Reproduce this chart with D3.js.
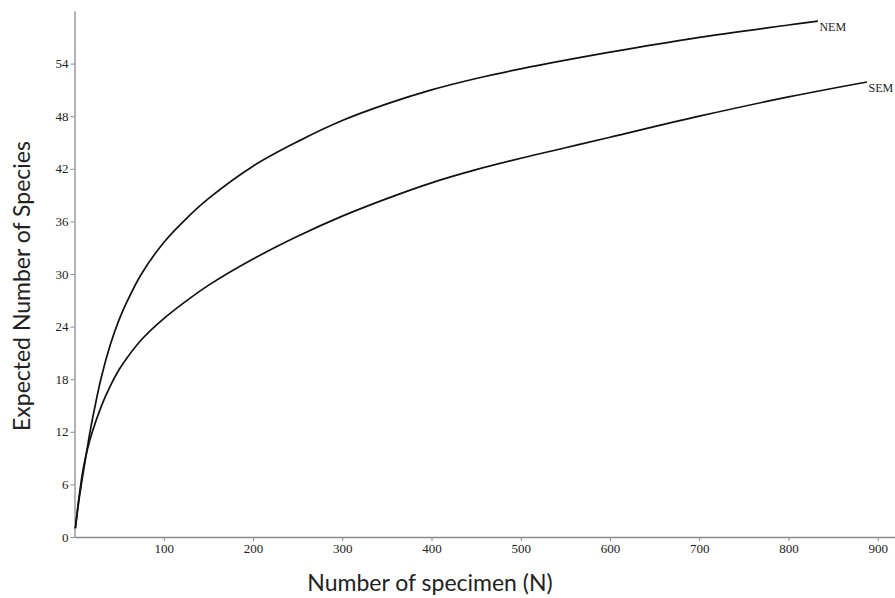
<!DOCTYPE html>
<html>
<head>
<meta charset="utf-8">
<script src="https://cdn.jsdelivr.net/npm/d3@7"></script>
<style>
  html, body { margin: 0; padding: 0; background: #fff; }
  svg { display: block; }
</style>
</head>
<body>
<svg id="chart" width="895" height="598"></svg>
<script>
// Rarefaction curves: expected species count against number of specimens
const nemN = [1, 5, 10, 15, 20, 30, 40, 50, 60, 75, 100, 125, 150, 200, 250, 300, 350, 400, 450, 500, 600, 700, 800, 833];
const nemS = [1, 4.2, 7.5, 10.6, 13.4, 18.2, 21.9, 24.8, 27.1, 30.0, 33.6, 36.3, 38.6, 42.3, 45.1, 47.5, 49.4, 51.0, 52.3, 53.4, 55.3, 57.0, 58.4, 58.85];

const semN = [1, 5, 10, 15, 20, 30, 40, 50, 60, 75, 100, 125, 150, 200, 250, 300, 350, 400, 450, 500, 550, 600, 700, 800, 888];
const semS = [1, 4.5, 7.9, 10.2, 12.0, 14.9, 17.2, 19.1, 20.6, 22.5, 24.9, 26.9, 28.7, 31.7, 34.3, 36.6, 38.6, 40.4, 41.9, 43.2, 44.4, 45.6, 48.0, 50.2, 51.9];

const seriesNames = ["NEM", "SEM"];

const xTicks = [100, 200, 300, 400, 500, 600, 700, 800, 900];
const yTicks = [0, 6, 12, 18, 24, 30, 36, 42, 48, 54];

const xTitle = "Number of specimen (N)";
const yTitle = "Expected Number of Species";

const svg = d3.select("#chart");

const x = d3.scaleLinear().domain([0, 920]).range([74.5, 895.6]);
const y = d3.scaleLinear().domain([0, 60]).range([537, 11]);

const axisColor = "#8a8a8a";
const tickFont = "'Liberation Serif', 'DejaVu Serif', serif";

// x axis
const gx = svg.append("g")
  .attr("transform", `translate(0,${y(0)})`)
  .call(d3.axisBottom(x).tickValues(xTicks).tickSize(4).tickSizeOuter(0).tickPadding(3));
// y axis
const gy = svg.append("g")
  .attr("transform", `translate(${x(0)},0)`)
  .call(d3.axisLeft(y).tickValues(yTicks).tickSize(4).tickSizeOuter(0).tickPadding(2));

[gx, gy].forEach(g => {
  g.select(".domain").attr("stroke", axisColor).attr("stroke-width", 1.3);
  g.selectAll(".tick line").attr("stroke", axisColor).attr("stroke-width", 1);
  g.selectAll(".tick text")
    .attr("fill", "#222")
    .style("font-family", tickFont)
    .style("font-size", "13px");
});

// curves
const line = d3.line()
  .x(d => x(d[0]))
  .y(d => y(d[1]))
  .curve(d3.curveCatmullRom.alpha(0.5));

const series = [
  { name: seriesNames[0], pts: d3.zip(nemN, nemS) },
  { name: seriesNames[1], pts: d3.zip(semN, semS) }
];

svg.append("g").selectAll("path")
  .data(series)
  .join("path")
  .attr("d", d => line(d.pts))
  .attr("fill", "none")
  .attr("stroke", "#111")
  .attr("stroke-width", 1.7);

// series labels at the end of each curve
svg.append("g").selectAll("text")
  .data(series)
  .join("text")
  .attr("x", d => x(d.pts[d.pts.length - 1][0]) + 1.5)
  .attr("y", d => y(d.pts[d.pts.length - 1][1]) + 10)
  .text(d => d.name)
  .attr("fill", "#222")
  .style("font-family", tickFont)
  .style("font-size", "12px");

// axis titles
svg.append("text")
  .attr("x", 430)
  .attr("y", 591)
  .attr("text-anchor", "middle")
  .attr("fill", "#222")
  .style("font-family", "Lato, 'Open Sans', sans-serif")
  .style("font-size", "23px")
  .text(xTitle);

svg.append("text")
  .attr("transform", "translate(30,286) rotate(-90)")
  .attr("text-anchor", "middle")
  .attr("fill", "#222")
  .style("font-family", "Lato, 'Open Sans', sans-serif")
  .style("font-size", "23px")
  .text(yTitle);
</script>
</body>
</html>
